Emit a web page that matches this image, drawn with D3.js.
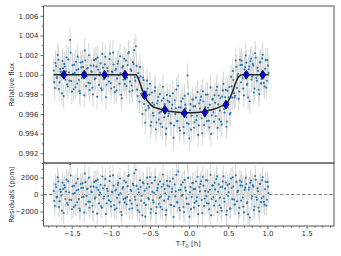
<!DOCTYPE html>
<html>
<head>
<meta charset="utf-8">
<script src="https://cdn.jsdelivr.net/npm/d3@7"></script>
<style>
  body { margin: 0; background: #fff; }
  text { font-family: "DejaVu Sans", sans-serif; }
</style>
</head>
<body>
<div id="chart"></div>
<script>
// data: two interleaved exposure sequences
const timeA = [
  -1.730,-1.715,-1.700,-1.685,-1.670,-1.655,-1.640,-1.625,-1.610,-1.595,
  -1.580,-1.565,-1.550,-1.535,-1.520,-1.505,-1.490,-1.475,-1.460,-1.445,
  -1.430,-1.415,-1.400,-1.385,-1.370,-1.355,-1.340,-1.325,-1.310,-1.295,
  -1.280,-1.265,-1.250,-1.235,-1.220,-1.205,-1.190,-1.175,-1.160,-1.145,
  -1.130,-1.115,-1.100,-1.085,-1.070,-1.055,-1.040,-1.025,-1.010,-0.995,
  -0.980,-0.965,-0.950,-0.935,-0.920,-0.905,-0.890,-0.875,-0.860,-0.845,
  -0.830,-0.815,-0.800,-0.785,-0.770,-0.755,-0.740,-0.725,-0.710,-0.695,
  -0.680,-0.665,-0.650,-0.635,-0.620,-0.605,-0.590,-0.575,-0.560,-0.545,
  -0.530,-0.515,-0.500,-0.485,-0.470,-0.455,-0.440,-0.425,-0.410,-0.395,
  -0.380,-0.365,-0.350,-0.335,-0.320,-0.305,-0.290,-0.275,-0.260,-0.245,
  -0.230,-0.215,-0.200,-0.185,-0.170,-0.155,-0.140,-0.125,-0.110,-0.095,
  -0.080,-0.065,-0.050,-0.035,-0.020,-0.005,0.010,0.025,0.040,0.055,
  0.070,0.085,0.100,0.115,0.130,0.145,0.160,0.175,0.190,0.205,
  0.220,0.235,0.250,0.265,0.280,0.295,0.310,0.325,0.340,0.355,
  0.370,0.385,0.400,0.415,0.430,0.445,0.460,0.475,0.490,0.505,
  0.520,0.535,0.550,0.565,0.580,0.595,0.610,0.625,0.640,0.655,
  0.670,0.685,0.700,0.715,0.730,0.745,0.760,0.775,0.790,0.805,
  0.820,0.835,0.850,0.865,0.880,0.895,0.910,0.925,0.940,0.955,
  0.970,0.985,1.000,1.015
]
// residuals in ppm, one per timeA entry
const residA = [
  420,-1350,880,-260,1520,-780,310,-1900,640,1100,
  -520,1750,-1200,230,3550,-640,950,-1480,180,1320,
  -910,560,-1650,1240,-320,780,-2100,1450,-150,680,
  1980,-880,340,-1320,920,-470,1600,-2250,510,-60,
  1150,-1560,720,-240,1830,-1020,380,-690,2150,-1400,
  260,1040,-1780,590,-380,1360,-920,150,-2400,870,
  1620,-450,-1150,980,2300,-700,410,-1620,1080,-260,
  2900,-1300,620,-2050,880,-150,1420,-980,-2600,740,
  1260,-560,2050,-1720,330,-940,1650,-2200,480,1190,
  -380,-1480,910,2350,-720,150,-1830,1040,-260,1560,
  -1240,690,-2650,1180,380,-900,2700,-1560,520,-140,
  1430,-2080,820,-460,3800,-1120,260,-1720,1340,640,
  -980,1520,-330,-2300,880,1230,-650,2080,-1360,410,
  -190,1660,-1050,560,-2450,1020,-320,1380,-780,2150,
  320,-1260,850,-1900,1520,-440,690,-2380,1130,260,
  -1640,1880,-520,940,-1180,2250,-790,420,-1560,1070,
  1460,-350,-2100,780,1240,-920,560,-2700,1640,-180,
  920,-1410,1720,-620,380,-1980,1260,-440,2020,-850,
  610,-1320,1480,180
]
const timeB = [
  -1.7225,-1.7075,-1.6925,-1.6775,-1.6625,-1.6475,-1.6325,-1.6175,-1.6025,-1.5875,
  -1.5725,-1.5575,-1.5425,-1.5275,-1.5125,-1.4975,-1.4825,-1.4675,-1.4525,-1.4375,
  -1.4225,-1.4075,-1.3925,-1.3775,-1.3625,-1.3475,-1.3325,-1.3175,-1.3025,-1.2875,
  -1.2725,-1.2575,-1.2425,-1.2275,-1.2125,-1.1975,-1.1825,-1.1675,-1.1525,-1.1375,
  -1.1225,-1.1075,-1.0925,-1.0775,-1.0625,-1.0475,-1.0325,-1.0175,-1.0025,-0.9875,
  -0.9725,-0.9575,-0.9425,-0.9275,-0.9125,-0.8975,-0.8825,-0.8675,-0.8525,-0.8375,
  -0.8225,-0.8075,-0.7925,-0.7775,-0.7625,-0.7475,-0.7325,-0.7175,-0.7025,-0.6875,
  -0.6725,-0.6575,-0.6425,-0.6275,-0.6125,-0.5975,-0.5825,-0.5675,-0.5525,-0.5375,
  -0.5225,-0.5075,-0.4925,-0.4775,-0.4625,-0.4475,-0.4325,-0.4175,-0.4025,-0.3875,
  -0.3725,-0.3575,-0.3425,-0.3275,-0.3125,-0.2975,-0.2825,-0.2675,-0.2525,-0.2375,
  -0.2225,-0.2075,-0.1925,-0.1775,-0.1625,-0.1475,-0.1325,-0.1175,-0.1025,-0.0875,
  -0.0725,-0.0575,-0.0425,-0.0275,-0.0125,0.0025,0.0175,0.0325,0.0475,0.0625,
  0.0775,0.0925,0.1075,0.1225,0.1375,0.1525,0.1675,0.1825,0.1975,0.2125,
  0.2275,0.2425,0.2575,0.2725,0.2875,0.3025,0.3175,0.3325,0.3475,0.3625,
  0.3775,0.3925,0.4075,0.4225,0.4375,0.4525,0.4675,0.4825,0.4975,0.5125,
  0.5275,0.5425,0.5575,0.5725,0.5875,0.6025,0.6175,0.6325,0.6475,0.6625,
  0.6775,0.6925,0.7075,0.7225,0.7375,0.7525,0.7675,0.7825,0.7975,0.8125,
  0.8275,0.8425,0.8575,0.8725,0.8875,0.9025,0.9175,0.9325,0.9475,0.9625,
  0.9775,0.9925,1.0075
]
const residB = [
  -760,1180,-340,2010,-1460,580,-120,1390,-2180,830,
  350,-990,1560,-610,2240,-1730,90,1020,-1280,470,
  1840,-540,-1890,760,1310,-280,2460,-1150,620,-830,
  -1560,930,270,-2020,1480,-360,820,1740,-1040,200,
  -1380,2120,-470,1050,-2300,680,-180,1590,-860,340,
  2250,-1250,480,-1620,1120,-40,1880,-2050,710,-520,
  -950,1430,-310,2180,-1710,560,-1100,1260,2500,-610,
  1010,-1840,240,1670,-720,-2450,1300,460,-1220,1980,
  -410,880,-2150,1350,-690,210,2040,-1480,780,-1090,
  1520,-230,-1760,1190,640,-2380,1600,-520,940,-1210,
  310,1870,-1390,-220,2300,-930,520,-1850,1140,-60,
  -1460,1720,440,-1080,1950,-2600,880,-300,1340,-1540,
  660,-780,2080,-1320,370,1560,-2180,1040,-470,1690,
  -1030,290,-1740,2310,-560,1080,-1290,600,1820,-2060,
  1190,-390,-1560,920,2150,-850,1410,-1910,-190,1240,
  -1660,760,2030,-580,-1170,1480,260,-2210,1650,-700,
  1020,-1420,540,1960,-1030,-2330,830,1370,-480,1100,
  -1810,2180,-320,720,-1530,1250,-890,1660,-240,-1190,
  1480,-620,920
]
const errPpm = 1250

// transit model
const modelX = [-1.73,-0.68,-0.64,-0.60,-0.56,-0.52,-0.48,-0.40,-0.30,-0.20,-0.10,0.00,0.10,0.20,0.30,0.40,0.48,0.52,0.56,0.60,0.64,0.68,1.015]
const modelY = [1.0,1.0,0.9994,0.9985,0.9977,0.9972,0.99685,0.99655,0.99635,0.99622,0.99614,0.99611,0.99615,0.99625,0.99645,0.99675,0.9971,0.9976,0.9984,0.9993,0.99985,1.0,1.0]

// binned points
const binX = [-1.60,-1.34,-1.08,-0.82,-0.57,-0.31,-0.06,0.20,0.47,0.73,0.94]
const binY = [1.0000,1.0000,1.0000,1.0000,0.99789,0.99643,0.99609,0.99614,0.99694,1.0000,1.0000]

const fluxTicks = [0.992,0.994,0.996,0.998,1.000,1.002,1.004,1.006]
const fluxMinor = [0.991,0.993,0.995,0.997,0.999,1.001,1.003,1.005,1.007]
const residTicks = [-2000,0,2000]
const residMinor = [-3000,-1000,1000,3000]
const timeTicks = [-1.5,-1.0,-0.5,0.0,0.5,1.0,1.5]
const timeMinor = [-1.8,-1.7,-1.6,-1.4,-1.3,-1.2,-1.1,-0.9,-0.8,-0.7,-0.6,-0.4,-0.3,-0.2,-0.1,
                   0.1,0.2,0.3,0.4,0.6,0.7,0.8,0.9,1.1,1.2,1.3,1.4,1.6,1.7,1.8]

// layout
const width = 341
const height = 256
const left = 43.5, right = 334
const top1 = 6, bot1 = 163, bot2 = 226

const svg = d3.select("#chart")
  .append("svg")
    .attr("width", width)
    .attr("height", height)

const x = d3.scaleLinear().domain([-1.86, 1.85]).range([left, right])
const y = d3.scaleLinear().domain([0.991, 1.007]).range([bot1, top1])
const yr = d3.scaleLinear().domain([-3700, 3700]).range([bot2, bot1])
const model = d3.scaleLinear().domain(modelX).range(modelY)

const points = timeA.map((t, i) => ({ t: t, r: residA[i] }))
  .concat(timeB.map((t, i) => ({ t: t, r: residB[i] })))
  .sort((a, b) => a.t - b.t)
points.forEach(d => { d.f = model(d.t) + d.r * 1e-6 })

const defs = svg.append("defs")
defs.append("clipPath").attr("id", "clipTop")
  .append("rect").attr("x", left).attr("y", top1).attr("width", right - left).attr("height", bot1 - top1)
defs.append("clipPath").attr("id", "clipBot")
  .append("rect").attr("x", left).attr("y", bot1).attr("width", right - left).attr("height", bot2 - bot1)

// top panel
const topGroup = svg.append("g").attr("clip-path", "url(#clipTop)")
topGroup.selectAll("line.err").data(points).enter().append("line")
  .attr("x1", d => x(d.t)).attr("x2", d => x(d.t))
  .attr("y1", d => y(d.f - errPpm * 1e-6)).attr("y2", d => y(d.f + errPpm * 1e-6))
  .attr("stroke", "#d6d6d6").attr("stroke-width", 1)
topGroup.selectAll("circle").data(points).enter().append("circle")
  .attr("cx", d => x(d.t)).attr("cy", d => y(d.f)).attr("r", 1.05)
  .attr("fill", "#1f77b4")

const line = d3.line().x(d => x(d[0])).y(d => y(d[1])).curve(d3.curveMonotoneX)
topGroup.append("path")
  .datum(modelX.map((v, i) => [v, modelY[i]]))
  .attr("fill", "none").attr("stroke", "#222").attr("stroke-width", 1.5)
  .attr("d", line)

const diamond = (cx, cy) => `M${cx},${cy - 4.5}L${cx + 3},${cy}L${cx},${cy + 4.5}L${cx - 3},${cy}Z`
topGroup.selectAll("path.bin").data(binX).enter().append("path")
  .attr("class", "bin")
  .attr("d", (d, i) => diamond(x(d), y(binY[i])))
  .attr("fill", "#0000ee").attr("stroke", "#000").attr("stroke-width", 0.8)

// bottom panel
const botGroup = svg.append("g").attr("clip-path", "url(#clipBot)")
botGroup.append("line")
  .attr("x1", left).attr("x2", right).attr("y1", yr(0)).attr("y2", yr(0))
  .attr("stroke", "#888").attr("stroke-width", 1).attr("stroke-dasharray", "3.5,2")
botGroup.selectAll("line.err").data(points).enter().append("line")
  .attr("x1", d => x(d.t)).attr("x2", d => x(d.t))
  .attr("y1", d => yr(d.r - errPpm)).attr("y2", d => yr(d.r + errPpm))
  .attr("stroke", "#d6d6d6").attr("stroke-width", 1)
botGroup.selectAll("circle").data(points).enter().append("circle")
  .attr("cx", d => x(d.t)).attr("cy", d => yr(d.r)).attr("r", 1.05)
  .attr("fill", "#1f77b4")

// axes
const fmt3 = d3.format(".3f")
const fmtT = d => d3.format(".1f")(d).replace("-", "\u2212")
const fmtR = d => d3.format("d")(d).replace("-", "\u2212")

function styleAxis(g) {
  g.select(".domain").remove()
  g.selectAll("line").attr("stroke", "#444").attr("stroke-width", 0.8)
  g.selectAll("text").attr("fill", "#333").style("font-size", "7px")
}

svg.append("g").attr("transform", `translate(${left},0)`)
  .call(d3.axisLeft(y).tickValues(fluxTicks).tickFormat(fmt3).tickSize(3).tickPadding(2))
  .call(styleAxis)
svg.append("g").attr("transform", `translate(${left},0)`)
  .call(d3.axisLeft(y).tickValues(fluxMinor).tickFormat("").tickSize(1.8))
  .call(styleAxis)

svg.append("g").attr("transform", `translate(${left},0)`)
  .call(d3.axisLeft(yr).tickValues(residTicks).tickFormat(fmtR).tickSize(3).tickPadding(2))
  .call(styleAxis)
svg.append("g").attr("transform", `translate(${left},0)`)
  .call(d3.axisLeft(yr).tickValues(residMinor).tickFormat("").tickSize(1.8))
  .call(styleAxis)

svg.append("g").attr("transform", `translate(0,${bot2})`)
  .call(d3.axisBottom(x).tickValues(timeTicks).tickFormat(fmtT).tickSize(3).tickPadding(2))
  .call(styleAxis)
svg.append("g").attr("transform", `translate(0,${bot2})`)
  .call(d3.axisBottom(x).tickValues(timeMinor).tickFormat("").tickSize(1.8))
  .call(styleAxis)

// frames
svg.append("rect").attr("x", left).attr("y", top1).attr("width", right - left).attr("height", bot1 - top1)
  .attr("fill", "none").attr("stroke", "#555").attr("stroke-width", 1)
svg.append("rect").attr("x", left).attr("y", bot1).attr("width", right - left).attr("height", bot2 - bot1)
  .attr("fill", "none").attr("stroke", "#555").attr("stroke-width", 1)

// labels
svg.append("text")
  .attr("transform", `translate(12,${(top1 + bot1) / 2}) rotate(-90)`)
  .attr("text-anchor", "middle").attr("dominant-baseline", "middle")
  .attr("fill", "#333").style("font-size", "7px")
  .text("Relative flux")
svg.append("text")
  .attr("transform", `translate(12,${(bot1 + bot2) / 2}) rotate(-90)`)
  .attr("text-anchor", "middle").attr("dominant-baseline", "middle")
  .attr("fill", "#333").style("font-size", "7px")
  .text("Residuals (ppm)")
const xl = svg.append("text")
  .attr("x", (left + right) / 2 - 0.5).attr("y", 246)
  .attr("text-anchor", "middle")
  .attr("fill", "#333").style("font-size", "7px")
xl.append("tspan").text("T-T")
xl.append("tspan").attr("dy", 1.5).style("font-size", "5px").text("0")
xl.append("tspan").attr("dy", -1.5).text(" [h]")
</script>
</body>
</html>
